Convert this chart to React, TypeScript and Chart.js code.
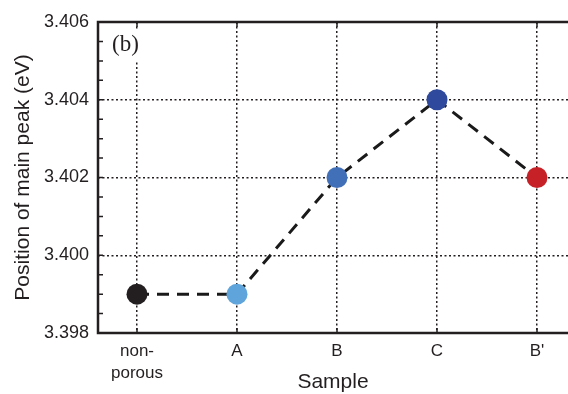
import { useEffect, useRef } from "react";
import { Chart, registerables } from "chart.js";

Chart.register(...registerables);

// Samples along the x axis (multi-line labels as arrays)
const categories: (string | string[])[] = [["non-", "porous"], "A", "B", "C", "B'"];
// Main peak position for each sample, eV
const peakPositions = [3.399, 3.399, 3.402, 3.404, 3.402];
// Marker colour for each sample
const pointColors = ["#231f20", "#5fa4da", "#4270b8", "#2f4a9c", "#c62127"];
// Labelled y ticks
const yMajorTicks = [3.398, 3.4, 3.402, 3.404, 3.406];
const yMinorStep = 0.0005;
// Horizontal extent of the axis, in sample-index units
const xMin = -0.39;
const xMax = 4.31;

const INK = "#231f20";
const SANS = '"Liberation Sans", Arial, Helvetica, sans-serif';

const isMajor = (v: number) => yMajorTicks.some((m) => Math.abs(m - v) < 1e-7);

const framePlugin = {
  id: "frame",
  beforeDatasetsDraw(chart: any) {
    const { ctx, chartArea } = chart;
    ctx.save();
    ctx.font = '23px "Liberation Serif", "Times New Roman", serif';
    ctx.textBaseline = "middle";
    ctx.textAlign = "left";
    const tx = chartArea.left + 14;
    const w = ctx.measureText("(b)").width;
    ctx.fillStyle = "#ffffff";
    ctx.fillRect(tx - 4, chartArea.top + 8, w + 10, 32);
    ctx.fillStyle = INK;
    ctx.fillText("(b)", tx, chartArea.top + 23);
    ctx.restore();
  },
  afterDraw(chart: any) {
    const { ctx, chartArea } = chart;
    const { left, right, top, bottom } = chartArea;
    const xs = chart.scales.x;
    const ys = chart.scales.y;
    ctx.save();
    ctx.strokeStyle = INK;
    ctx.lineCap = "butt";
    // inward tick marks
    ctx.lineWidth = 1.5;
    ctx.beginPath();
    ys.ticks.forEach((t: any) => {
      if (t.value <= ys.min + 1e-9 || t.value >= ys.max - 1e-9) return;
      const py = ys.getPixelForValue(t.value);
      ctx.moveTo(left, py);
      ctx.lineTo(left + 5, py);
    });
    xs.ticks.forEach((t: any) => {
      const px = xs.getPixelForValue(t.value);
      ctx.moveTo(px, bottom);
      ctx.lineTo(px, bottom - 5);
      ctx.moveTo(px, top);
      ctx.lineTo(px, top + 5);
    });
    ctx.stroke();
    // frame: left, bottom and top
    ctx.lineWidth = 2.5;
    ctx.beginPath();
    ctx.moveTo(right, top);
    ctx.lineTo(left, top);
    ctx.lineTo(left, bottom);
    ctx.lineTo(right, bottom);
    ctx.stroke();
    ctx.restore();
  },
};

export default function App() {
  const canvasRef = useRef<HTMLCanvasElement>(null);

  useEffect(() => {
    const canvas = canvasRef.current;
    if (!canvas) return;
    const chart = new Chart(canvas, {
      type: "line",
      data: {
        datasets: [
          {
            data: peakPositions.map((y, i) => ({ x: i, y })),
            borderColor: "#1a1a1a",
            borderWidth: 3,
            borderDash: [12, 8],
            pointRadius: 10.5,
            pointHoverRadius: 10.5,
            pointBorderWidth: 0,
            pointBackgroundColor: pointColors,
            pointBorderColor: pointColors,
            tension: 0,
            fill: false,
          },
        ],
      },
      options: {
        responsive: false,
        animation: false,
        events: [],
        layout: { autoPadding: false, padding: { top: 22, left: 0, right: 0, bottom: 0 } },
        plugins: { legend: { display: false }, tooltip: { enabled: false } },
        scales: {
          x: {
            type: "linear",
            min: xMin,
            max: xMax,
            afterBuildTicks: (scale: any) => {
              scale.ticks = categories.map((_, i) => ({ value: i }));
            },
            afterFit: (scale: any) => {
              scale.height = 61;
            },
            grid: { color: INK, lineWidth: 1.5, drawTicks: false },
            border: { display: false, dash: [2, 2.5] },
            ticks: {
              autoSkip: false,
              maxRotation: 0,
              padding: 8,
              color: INK,
              font: { family: SANS, size: 17, lineHeight: 1.25 },
              callback: (v: any) => categories[Math.round(Number(v))] ?? "",
            },
            title: {
              display: true,
              text: "Sample",
              color: INK,
              font: { family: SANS, size: 21 },
              padding: { top: 0, bottom: -1 },
            },
          },
          y: {
            type: "linear",
            min: yMajorTicks[0],
            max: yMajorTicks[yMajorTicks.length - 1],
            afterBuildTicks: (scale: any) => {
              const ticks: { value: number }[] = [];
              const n = Math.round((scale.max - scale.min) / yMinorStep);
              for (let k = 0; k <= n; k++) {
                ticks.push({ value: +(scale.min + k * yMinorStep).toFixed(4) });
              }
              scale.ticks = ticks;
            },
            afterFit: (scale: any) => {
              scale.width = 98;
            },
            grid: {
              lineWidth: 1.5,
              drawTicks: false,
              color: (c: any) => {
                const v = c.tick?.value;
                if (v === undefined) return "transparent";
                const edge = v <= yMajorTicks[0] + 1e-9 || v >= yMajorTicks[yMajorTicks.length - 1] - 1e-9;
                return isMajor(v) && !edge ? INK : "transparent";
              },
            },
            border: { display: false, dash: [2, 2.5] },
            ticks: {
              autoSkip: false,
              padding: 9,
              color: INK,
              font: { family: SANS, size: 18 },
              callback: (v: any) => (isMajor(Number(v)) ? Number(v).toFixed(3) : ""),
            },
            title: {
              display: true,
              text: "Position of main peak (eV)",
              color: INK,
              font: { family: SANS, size: 21 },
              padding: { top: 11, bottom: 0 },
            },
          },
        },
      },
      plugins: [framePlugin],
    });
    return () => chart.destroy();
  }, []);

  return (
    <div style={{ position: "fixed", left: 0, top: 0, width: 568, height: 394, background: "#fff" }}>
      <canvas ref={canvasRef} width={568} height={394} style={{ display: "block" }} />
    </div>
  );
}
